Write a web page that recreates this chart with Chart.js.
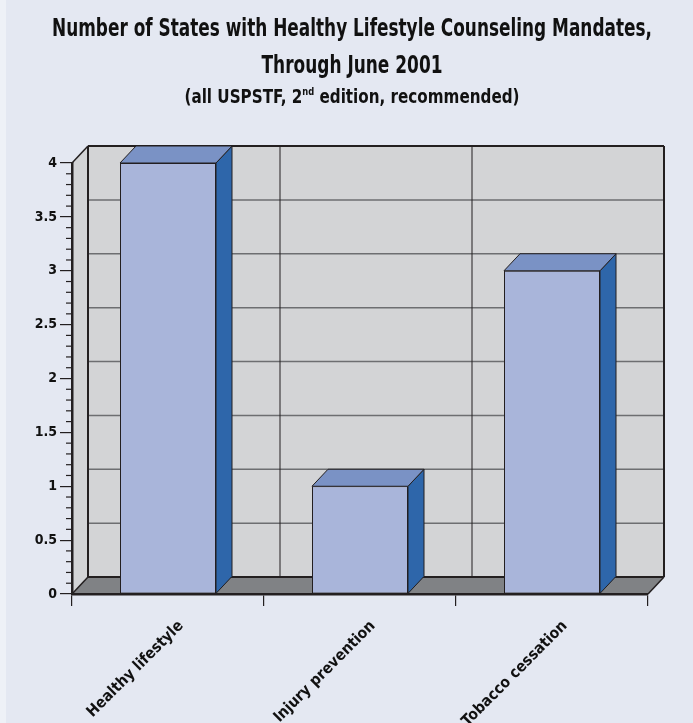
<!DOCTYPE html>
<html>
<head>
<meta charset="utf-8">
<script src="https://cdn.jsdelivr.net/npm/chart.js@4"></script>
<style>
    html, body { margin: 0; padding: 0; background: #e4e8f2; }
    #mandates-chart {
        position: relative;
        width: 693px;
        height: 723px;
        background: linear-gradient(to right, #eef1f7 0, #eef1f7 6px, #e4e8f2 6px);
    }
</style>
</head>
<body>
<div id="mandates-chart"><canvas></canvas></div>
<script>
const categories = ["Healthy lifestyle", "Injury prevention", "Tobacco cessation"];
const stateCounts = [4, 1, 3];
const yTickValues = [0, 0.5, 1, 1.5, 2, 2.5, 3, 3.5, 4];

const titleLine1 = "Number of States with Healthy Lifestyle Counseling Mandates,";
const titleLine2 = "Through June 2001";
const subtitleParts = ["(all USPSTF, 2", "nd", " edition, recommended)"];

const FONT = "'Liberation Sans Narrow', 'DejaVu Sans Condensed', 'Arial Narrow', sans-serif";
const INK = '#231f20';

// depth of the fake 3d box
const DEPTH_X = 16;
const DEPTH_Y = -17;

var mandatesChart;

function poly(ctx, points, fill, stroke, width) {
    ctx.beginPath();
    ctx.moveTo(points[0][0], points[0][1]);
    for (let i = 1; i < points.length; i++) ctx.lineTo(points[i][0], points[i][1]);
    ctx.closePath();
    if (fill) { ctx.fillStyle = fill; ctx.fill(); }
    if (stroke) { ctx.strokeStyle = stroke; ctx.lineWidth = width; ctx.stroke(); }
}

function line(ctx, x1, y1, x2, y2, color, width) {
    ctx.beginPath();
    ctx.moveTo(x1, y1);
    ctx.lineTo(x2, y2);
    ctx.strokeStyle = color;
    ctx.lineWidth = width;
    ctx.stroke();
}

// walls, floor and back grid
const boxPlugin = {
    id: 'box3d',
    beforeDatasetsDraw(chart) {
        const { ctx, chartArea: a, scales: { x, y } } = chart;
        const L = a.left, R = a.right, T = a.top, B = a.bottom;
        const dx = DEPTH_X, dy = DEPTH_Y;
        ctx.save();
        poly(ctx, [[L + dx, T + dy], [R + dx, T + dy], [R + dx, B + dy], [L + dx, B + dy]], '#d3d4d6');
        poly(ctx, [[L, T], [L + dx, T + dy], [L + dx, B + dy], [L, B]], '#d3d4d6');
        poly(ctx, [[L, B], [R, B], [R + dx, B + dy], [L + dx, B + dy]], '#808285');

        y.ticks.forEach(t => {
            if (t.value <= y.min || t.value >= y.max) return;
            const py = y.getPixelForValue(t.value) + dy;
            line(ctx, L + dx, py, R + dx, py, '#6d6e71', 1.5);
        });
        for (let i = 1; i < categories.length; i++) {
            const bx = (x.getPixelForTick(i - 1) + x.getPixelForTick(i)) / 2 + dx;
            line(ctx, bx, T + dy, bx, B + dy, INK, 1);
        }

        // box edges
        line(ctx, L + dx, T + dy, R + dx, T + dy, INK, 2);
        line(ctx, R + dx, T + dy, R + dx, B + dy, INK, 2);
        line(ctx, L + dx, T + dy, L + dx, B + dy, INK, 2);
        line(ctx, L + dx, B + dy, R + dx, B + dy, INK, 2);
        line(ctx, L, T, L + dx, T + dy, INK, 1.5);
        line(ctx, L, B, L + dx, B + dy, INK, 1.5);
        line(ctx, R, B, R + dx, B + dy, INK, 1.5);

        // minor ticks on the value axis
        for (let i = 1; i < yTickValues.length; i++) {
            const v0 = yTickValues[i - 1], v1 = yTickValues[i];
            for (let k = 1; k < 5; k++) {
                const py = y.getPixelForValue(v0 + (v1 - v0) * k / 5);
                line(ctx, L - 6, py, L, py, INK, 1.2);
            }
        }
        ctx.restore();
    },
    afterDatasetsDraw(chart) {
        const { ctx } = chart;
        const dx = DEPTH_X, dy = DEPTH_Y;
        ctx.save();
        chart.getDatasetMeta(0).data.forEach(bar => {
            const { x, y, base, width } = bar.getProps(['x', 'y', 'base', 'width'], true);
            const left = x - width / 2, right = x + width / 2;
            poly(ctx, [[right, y], [right + dx, y + dy], [right + dx, base + dy], [right, base]], '#2e66aa', INK, 1);
            poly(ctx, [[left, y], [left + dx, y + dy], [right + dx, y + dy], [right, y]], '#7a92c5', INK, 1);
        });
        ctx.restore();
    }
};

// three line heading, the last one with a superscript
const headingPlugin = {
    id: 'heading',
    afterDraw(chart) {
        const { ctx } = chart;
        const cx = 352;
        ctx.save();
        ctx.fillStyle = '#111';
        ctx.textBaseline = 'alphabetic';

        const fitLine = (text, size, width, baseline) => {
            ctx.font = 'bold ' + size + 'px ' + FONT;
            const w = ctx.measureText(text).width;
            ctx.save();
            ctx.translate(cx, baseline);
            ctx.scale(width / w, 1);
            ctx.textAlign = 'center';
            ctx.fillText(text, 0, 0);
            ctx.restore();
        };
        fitLine(titleLine1, 25, 600, 36);
        fitLine(titleLine2, 25, 181, 73);

        const big = 'bold 20px ' + FONT, small = 'bold 11px ' + FONT;
        ctx.font = big;
        const w0 = ctx.measureText(subtitleParts[0]).width;
        const w2 = ctx.measureText(subtitleParts[2]).width;
        ctx.font = small;
        const w1 = ctx.measureText(subtitleParts[1]).width;
        const total = w0 + w1 + w2;
        ctx.save();
        ctx.translate(cx, 103);
        ctx.scale(335 / total, 1);
        ctx.textAlign = 'left';
        let px = -total / 2;
        ctx.font = big;
        ctx.fillText(subtitleParts[0], px, 0);
        px += w0;
        ctx.font = small;
        ctx.fillText(subtitleParts[1], px, -8);
        px += w1;
        ctx.font = big;
        ctx.fillText(subtitleParts[2], px, 0);
        ctx.restore();
        ctx.restore();
    }
};

function initMandatesChart() {
    const context = document.querySelector('#mandates-chart canvas').getContext('2d');
    const settings = {
        type: 'bar',
        data: {
            labels: categories,
            datasets: [{
                label: 'States',
                data: stateCounts,
                backgroundColor: '#a9b5da',
                borderColor: INK,
                borderWidth: 1,
                borderSkipped: false,
                barPercentage: 0.5,
                categoryPercentage: 1
            }]
        },
        options: {
            responsive: true,
            maintainAspectRatio: false,
            animation: false,
            layout: { padding: { top: 163, right: 45, left: 0, bottom: 0 } },
            plugins: {
                legend: { display: false },
                tooltip: { enabled: false }
            },
            scales: {
                x: {
                    grid: { offset: true, drawOnChartArea: false, tickLength: 12, color: INK, lineWidth: 1.2 },
                    border: { display: true, color: INK, width: 2.5, z: 1 },
                    ticks: {
                        autoSkip: false,
                        minRotation: 45,
                        maxRotation: 45,
                        padding: 11,
                        labelOffset: 13,
                        color: '#111',
                        font: { family: FONT, size: 15.5, weight: 'bold' }
                    },
                    afterFit: scale => { scale.height = 129; }
                },
                y: {
                    min: 0,
                    max: 4,
                    afterBuildTicks: scale => { scale.ticks = yTickValues.map(v => ({ value: v })); },
                    grid: { drawOnChartArea: false, tickLength: 12, color: INK, lineWidth: 1.2 },
                    border: { display: true, color: INK, width: 2.5, z: 1 },
                    ticks: {
                        padding: 3,
                        color: '#111',
                        font: { family: FONT, size: 14, weight: 'bold' },
                        callback: value => String(value)
                    },
                    afterFit: scale => { scale.width = 72; }
                }
            }
        },
        plugins: [boxPlugin, headingPlugin]
    };

    mandatesChart = new Chart(context, settings);
}

initMandatesChart();
</script>
</body>
</html>
